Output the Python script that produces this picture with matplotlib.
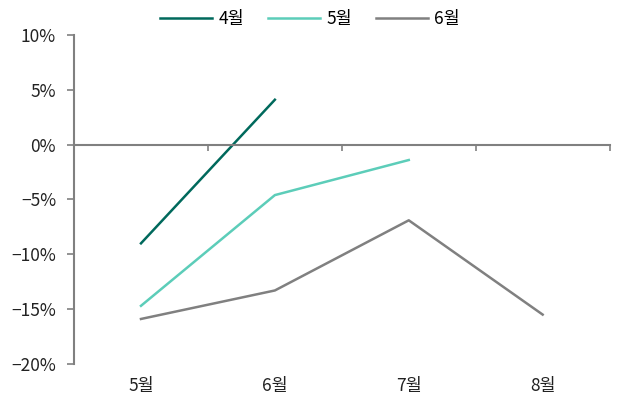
import matplotlib.pyplot as plt
from matplotlib.ticker import FixedLocator, FuncFormatter

plt.rcParams['font.family'] = ['Noto Sans CJK KR', 'DejaVu Sans']
plt.rcParams['axes.unicode_minus'] = False

months = ['5월', '6월', '7월', '8월']
series_names = ['4월', '5월', '6월']
apr_vals = [-9.0, 4.1]
may_vals = [-14.7, -4.6, -1.4]
jun_vals = [-15.9, -13.3, -6.9, -15.5]
y_ticks = [-20, -15, -10, -5, 0, 5, 10]

colors = ['#00695c', '#5ccdb9', '#808080']


def pct_fmt(v, pos):
    s = f'{v:.0f}%'
    return s.replace('-', '\u2212')


def plot_data():
    fig = plt.figure(figsize=(6.17, 4.03), dpi=100)
    ax = fig.add_axes([0.12, 0.097, 0.868, 0.816])

    for vals, name, c in zip([apr_vals, may_vals, jun_vals], series_names, colors):
        ax.plot(range(len(vals)), vals, color=c, lw=1.8, label=name)

    ax.set_xlim(-0.5, len(months) - 0.5)
    ax.set_ylim(-20, 10)

    # y axis
    ax.yaxis.set_major_locator(FixedLocator(y_ticks))
    ax.yaxis.set_major_formatter(FuncFormatter(pct_fmt))
    ax.tick_params(axis='y', length=5, width=1.2, color='#808080',
                   labelsize=12.5, labelcolor='#222222', pad=8)

    # x axis sits on the zero line, ticks between categories
    ax.spines['bottom'].set_position(('data', 0))
    ax.spines['bottom'].set_color('#808080')
    ax.spines['bottom'].set_linewidth(1.5)
    ax.spines['left'].set_color('#808080')
    ax.spines['left'].set_linewidth(1.5)
    ax.spines['top'].set_visible(False)
    ax.spines['right'].set_visible(False)
    ax.set_xticks([i - 0.5 for i in range(len(months) + 1)])
    ax.set_xticklabels([])
    ax.tick_params(axis='x', length=4, width=1.2, color='#808080', direction='out')

    for i, m in enumerate(months):
        ax.text(i, -0.04, m, transform=ax.get_xaxis_transform(),
                ha='center', va='top', fontsize=12.5, color='#222222')

    ax.legend(loc='center', bbox_to_anchor=(0.5025, 0.953),
              bbox_transform=fig.transFigure, ncol=3,
              frameon=False, fontsize=12.5, handlelength=3.0, handletextpad=0.35,
              columnspacing=1.4, borderaxespad=0)

    fig.savefig('out.png', dpi=100)


if __name__ == '__main__':
    plot_data()
